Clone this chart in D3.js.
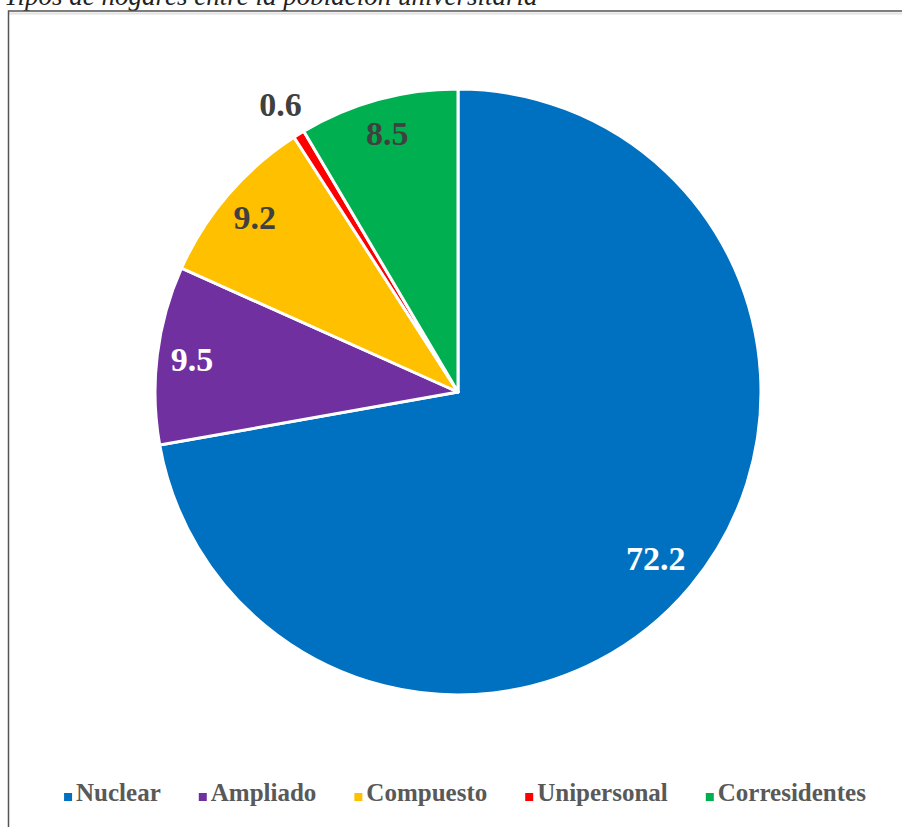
<!DOCTYPE html>
<html>
<head>
<meta charset="utf-8">
<script src="https://cdn.jsdelivr.net/npm/d3@7"></script>
<style>
  body { margin: 0; background: #fff; }
</style>
</head>
<body>
<svg id="chart" width="902" height="827"></svg>
<script>
var categories = ["Nuclear", "Ampliado", "Compuesto", "Unipersonal", "Corresidentes"];
var values = [72.2, 9.5, 9.2, 0.6, 8.5];
var colors = ["#0070C0", "#7030A0", "#FFC000", "#FF0000", "#00B050"];
var labelColors = ["#ffffff", "#ffffff", "#404040", "#404040", "#404040"];
var title = "Tipos de hogares entre la población universitaria";

var data = categories.map(function(c, i) { return {name: c, value: values[i]}; });

var svg = d3.select("#chart"),
    cx = 458, cy = 392, radius = 303;

// title, cut off at the top as in the reference
svg.append("text")
    .attr("x", 4)
    .attr("y", 5)
    .attr("font-family", "Liberation Serif, serif")
    .attr("font-style", "italic")
    .attr("font-size", 27)
    .attr("fill", "#222")
    .text(title);

// frame
svg.append("line")
    .attr("x1", 8).attr("x2", 902).attr("y1", 13.5).attr("y2", 13.5)
    .attr("stroke", "#e2e2e2").attr("stroke-width", 2);
svg.append("rect")
    .attr("x", 8.5).attr("y", 11)
    .attr("width", 910).attr("height", 830)
    .attr("fill", "none")
    .attr("stroke", "#555")
    .attr("stroke-width", 1.5);

var color = d3.scaleOrdinal().domain(categories).range(colors);

var pie = d3.pie()
    .sort(null)
    .value(function(d) { return d.value; });

var arc = d3.arc().innerRadius(0).outerRadius(radius);

var g = svg.append("g").attr("transform", "translate(" + cx + "," + cy + ")");

var arcs = pie(data);

g.selectAll("path")
    .data(arcs)
    .enter().append("path")
      .attr("d", arc)
      .attr("fill", function(d) { return color(d.data.name); })
      .attr("stroke", "#fff")
      .attr("stroke-width", 3)
      .attr("stroke-linejoin", "round");

function labelPos(d) {
  var a = (d.startAngle + d.endAngle) / 2;
  var r = d.data.value < 2 ? 338 : (d.data.value > 50 ? 258 : 268);
  return [r * Math.sin(a), -r * Math.cos(a)];
}

g.selectAll("text.lbl")
    .data(arcs)
    .enter().append("text")
      .attr("class", "lbl")
      .attr("transform", function(d) { return "translate(" + labelPos(d) + ")"; })
      .attr("text-anchor", "middle")
      .attr("dy", "0.35em")
      .attr("font-family", "Liberation Serif, serif")
      .attr("font-weight", "bold")
      .attr("font-size", 34)
      .attr("fill", function(d, i) { return labelColors[i]; })
      .text(function(d) { return d3.format(".1f")(d.data.value); });

// legend
var legend = svg.append("g")
    .attr("font-family", "Liberation Serif, serif")
    .attr("font-weight", "bold")
    .attr("font-size", 25)
    .attr("fill", "#595959");

var items = legend.selectAll("g")
    .data(categories)
    .enter().append("g");

items.append("rect")
    .attr("width", 8)
    .attr("height", 8)
    .attr("y", -8)
    .attr("fill", function(d) { return color(d); });

items.append("text")
    .attr("x", 12)
    .text(function(d) { return d; });

var xpos = 0, gap = 38, widths = [];
items.each(function() {
  var w = d3.select(this).select("text").node().getComputedTextLength();
  widths.push(12 + w);
});
var total = d3.sum(widths) + gap * (widths.length - 1);
xpos = 465 - total / 2;
items.attr("transform", function(d, i) {
  var t = "translate(" + xpos + ",801)";
  xpos += widths[i] + gap;
  return t;
});
</script>
</body>
</html>
